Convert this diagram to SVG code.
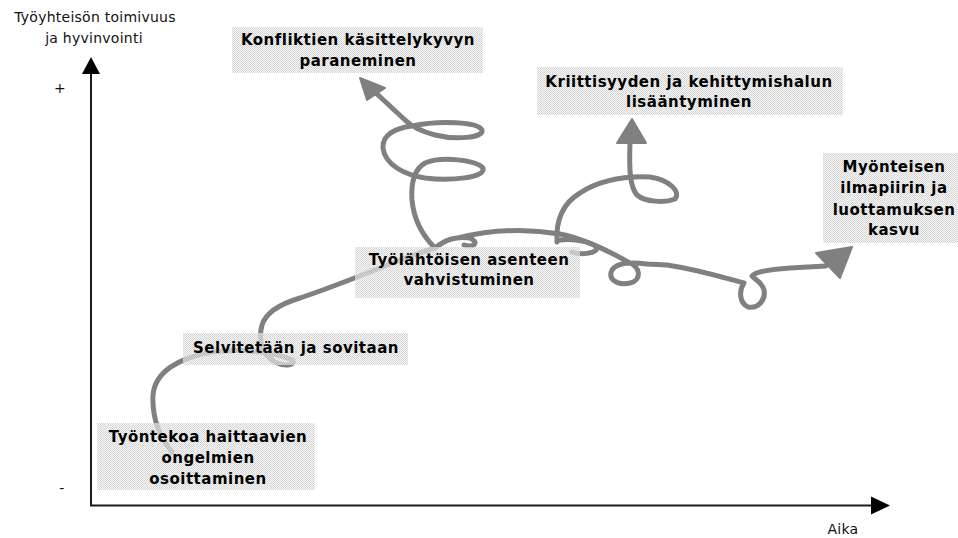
<svg xmlns="http://www.w3.org/2000/svg" width="958" height="538" viewBox="0 0 958 538">
<defs>
<pattern id="dither" width="2" height="2" patternUnits="userSpaceOnUse">
<rect x="0" y="0" width="1" height="1" fill="#d4d4d4"/>
<rect x="1" y="1" width="1" height="1" fill="#d4d4d4"/>
<rect x="1" y="0" width="1" height="1" fill="#f4f4f4" fill-opacity="0.5"/>
<rect x="0" y="1" width="1" height="1" fill="#f4f4f4" fill-opacity="0.5"/>
</pattern>
<style>
.curve{fill:none;stroke:#808080;stroke-width:5;stroke-linecap:round;stroke-linejoin:round}
.head{fill:#808080;stroke:#808080;stroke-width:2;stroke-linejoin:round}
.box{fill:url(#dither)}
.lbl{font-family:"DejaVu Sans",sans-serif;font-weight:bold;font-size:15px;letter-spacing:0.5px;text-anchor:middle;fill:#000}
.ax{font-family:"DejaVu Sans",sans-serif;font-size:14px;letter-spacing:0.25px;text-anchor:middle;fill:#111}
.axis{stroke:#1a1a1a;stroke-width:2;fill:none}
.axhead{fill:#000}
</style>
</defs>
<rect width="958" height="538" fill="#fff"/>

<g id="axes">
<line class="axis" x1="91" y1="72" x2="91" y2="506"/>
<line class="axis" x1="90" y1="505.5" x2="872" y2="505.5"/>
<polygon class="axhead" points="91,57 82,74 100,74"/>
<polygon class="axhead" points="890,505.5 871,496.5 871,514.5"/>
<text class="ax" x="95" y="22">Työyhteisön toimivuus</text>
<text class="ax" x="94" y="43">ja hyvinvointi</text>
<text class="ax" x="843" y="534">Aika</text>
<text class="ax" x="60" y="93" font-size="16">+</text>
<text class="ax" x="62" y="493" font-size="16">-</text>
</g>

<g id="connectors">
<path class="curve" d="M172,452 C158,435 152,415 153,395 C155,372 178,358 212,352 C240,348 275,352 292,360 C297,365 285,367 275,362 C262,355 258,340 262,325 C266,312 280,304 300,298 C330,288 360,276 385,266 C405,258 422,252 435,248"/>
<path class="curve" d="M435,248 C425,238 414,222 412,200 C411,185 413,170 425,163 C442,156 476,160 483,168 C486,178 450,181 425,178 C405,175 385,165 383,148 C382,135 395,128 412,126 C440,120 478,122 482,130 C484,138 455,140 435,135 C420,131 412,127 405,120 L377,94"/>
<polygon class="head" points="360,78 367,100 385,88"/>
<path class="curve" d="M435,248 C445,240 455,236 470,238 C479,242 475,248 464,245 M458,238 C490,230 525,228 560,234 C580,238 600,246 628,262 C641,267 642,280 630,283 C615,286 608,278 612,270 C617,262 632,262 647,264 L667,265 C700,270 725,278 744,283 C739,290 739,303 748,307 C758,309 766,300 764,290 C762,282 754,279 752,276 C756,271 775,269 790,268 L826,266"/>
<polygon class="head" points="816,253 852,247 840,278"/>
<path class="curve" d="M560,240 C576,238 595,243 597,248 C596,254 580,255 572,252"/>
<path class="curve" d="M557,242 C556,225 560,205 580,193 C600,180 625,176 650,177 C670,180 681,192 675,199 C665,203 645,202 637,195 C630,187 629,170 630,143"/>
<polygon class="head" points="632,119 617,143 646,143"/>
</g>

<g id="node-konfliktien">
<rect class="box" x="232" y="27" width="251" height="46"/>
<text class="lbl" x="358" y="45">Konfliktien käsittelykyvyn</text>
<text class="lbl" x="358" y="66">paraneminen</text>
</g>

<g id="node-kriittisyyden">
<rect class="box" x="537" y="67" width="306" height="48"/>
<text class="lbl" x="689" y="87">Kriittisyyden ja kehittymishalun</text>
<text class="lbl" x="689" y="107">lisääntyminen</text>
</g>

<g id="node-myonteisen">
<rect class="box" x="823" y="153" width="135" height="90"/>
<text class="lbl" x="894" y="172">Myönteisen</text>
<text class="lbl" x="894" y="193">ilmapiirin ja</text>
<text class="lbl" x="894" y="215">luottamuksen</text>
<text class="lbl" x="894" y="235">kasvu</text>
</g>

<g id="node-tyolahtoisen">
<rect class="box" x="355" y="247" width="225" height="51"/>
<text class="lbl" x="469" y="265">Työlähtöisen asenteen</text>
<text class="lbl" x="469" y="285">vahvistuminen</text>
</g>

<g id="node-selvitetaan">
<rect class="box" x="183" y="333" width="225" height="32"/>
<text class="lbl" x="296" y="353">Selvitetään ja sovitaan</text>
</g>

<g id="node-tyontekoa">
<rect class="box" x="97" y="423" width="218" height="67"/>
<text class="lbl" x="208" y="442">Työntekoa haittaavien</text>
<text class="lbl" x="208" y="463">ongelmien</text>
<text class="lbl" x="208" y="484">osoittaminen</text>
</g>
</svg>
